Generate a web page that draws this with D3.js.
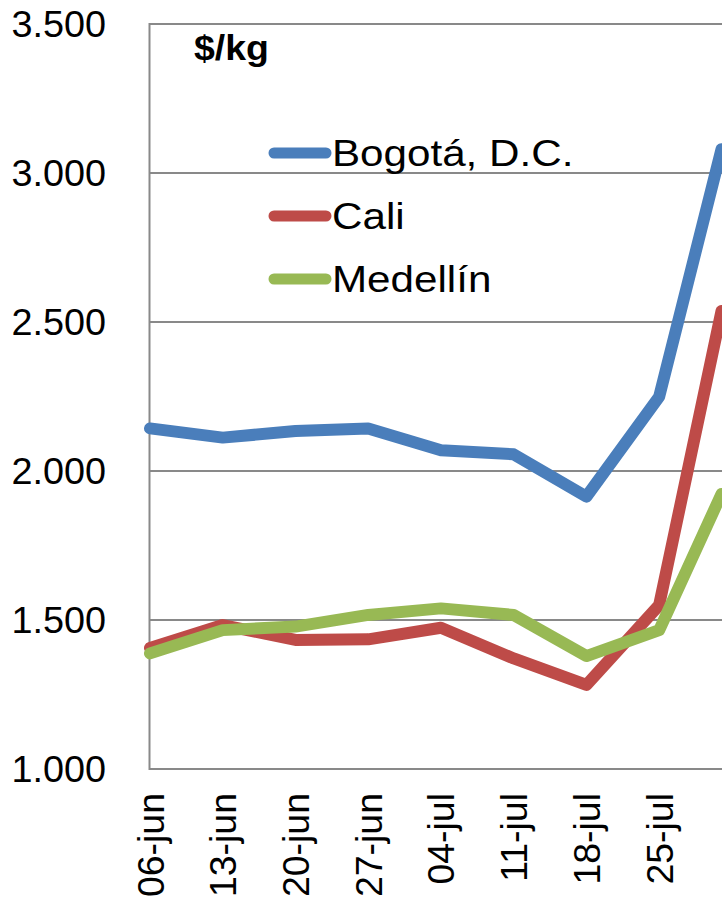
<!DOCTYPE html>
<html>
<head>
<meta charset="utf-8">
<script src="https://cdn.jsdelivr.net/npm/d3@7"></script>
<style>
  body { margin: 0; background: #fff; }
  svg { display: block; }
  text { font-family: "Liberation Sans", Arial, sans-serif; fill: #000; }
</style>
</head>
<body>
<div id="container"></div>
<script>
// Data (weekly prices, $/kg)
var dates = ["2013-06-06", "2013-06-13", "2013-06-20", "2013-06-27", "2013-07-04",
             "2013-07-11", "2013-07-18", "2013-07-25", "2013-07-31"];
var tickDates = ["2013-06-06", "2013-06-13", "2013-06-20", "2013-06-27",
                 "2013-07-04", "2013-07-11", "2013-07-18", "2013-07-25"];
var tickLabels = ["06-jun", "13-jun", "20-jun", "27-jun", "04-jul", "11-jul", "18-jul", "25-jul"];
var yTicks = [1000, 1500, 2000, 2500, 3000, 3500];

var seriesNames = ["Bogotá, D.C.", "Cali", "Medellín"];
var bogota = [2143, 2112, 2134, 2143, 2070, 2056, 1914, 2249, 3080];
var cali = [1406, 1483, 1433, 1435, 1474, 1371, 1282, 1550, 2537];
var medellin = [1388, 1466, 1478, 1517, 1539, 1517, 1379, 1466, 1923];
var colors = ["#4a7ebb", "#be4b48", "#98b954"];

var width = 722;
var height = 898;
// plot area edges (note: "top" is reserved on window, so prefix these)
var plotLeft = 149.5, plotRight = 722, plotTop = 24, plotBottom = 769;

var parse = d3.timeParse("%Y-%m-%d");
var locale = d3.formatLocale({ decimal: ",", thousands: ".", grouping: [3], currency: ["$", ""] });

var svg = d3.select("#container").append("svg")
  .attr("width", width)
  .attr("height", height);

var x = d3.scaleTime()
  .domain([parse(dates[0]), parse(dates[dates.length - 1])])
  .range([plotLeft + 0.5, 721.5]);

var y = d3.scaleLinear()
  .domain([1000, 3500])
  .range([plotBottom, plotTop]);

// gridlines
svg.append("g").selectAll("line")
  .data(yTicks.slice(1, -1))
  .enter().append("line")
  .attr("x1", plotLeft).attr("x2", plotRight)
  .attr("y1", function(d) { return y(d); })
  .attr("y2", function(d) { return y(d); })
  .attr("stroke", "#898989")
  .attr("stroke-width", 2);

// plot border
svg.append("rect")
  .attr("x", plotLeft).attr("y", plotTop)
  .attr("width", plotRight - plotLeft + 2).attr("height", plotBottom - plotTop)
  .attr("fill", "none")
  .attr("stroke", "#898989")
  .attr("stroke-width", 2);

// y axis labels
var yAxis = d3.axisLeft(y)
  .tickValues(yTicks)
  .tickFormat(locale.format(",.0f"))
  .tickSize(0)
  .tickPadding(0);

var gy = svg.append("g")
  .attr("transform", "translate(106,0)")
  .call(yAxis);
gy.select(".domain").remove();
gy.selectAll("text")
  .attr("x", 0)
  .attr("dy", "0.35em")
  .attr("transform", "scale(1.05,1)")
  .style("font-size", "36px")
  .style("font-family", "'Liberation Sans', Arial, sans-serif")
  .attr("fill", "#000");

// x axis labels (rotated)
var xAxis = d3.axisBottom(x)
  .tickValues(tickDates.map(parse))
  .tickFormat(function(d, i) { return tickLabels[i]; })
  .tickSize(0);

var gx = svg.append("g")
  .attr("transform", "translate(0," + plotBottom + ")")
  .call(xAxis);
gx.select(".domain").remove();
gx.selectAll("text")
  .attr("text-anchor", "end")
  .attr("transform", "translate(13,24) rotate(-90) scale(1.04,1)")
  .attr("x", 0).attr("y", 0).attr("dy", 0)
  .style("font-size", "36px")
  .style("font-family", "'Liberation Sans', Arial, sans-serif")
  .attr("fill", "#000");

// series lines
var allSeries = [bogota, cali, medellin];
var line = d3.line()
  .x(function(d, i) { return x(parse(dates[i])); })
  .y(function(d) { return y(d); });

svg.append("g").selectAll("path")
  .data(allSeries)
  .enter().append("path")
  .attr("d", line)
  .attr("fill", "none")
  .attr("stroke", function(d, i) { return colors[i]; })
  .attr("stroke-width", 12)
  .attr("stroke-linejoin", "round")
  .attr("stroke-linecap", "round");

// unit label
svg.append("text")
  .attr("transform", "translate(194,60) scale(1.07,1)")
  .style("font-size", "35px")
  .style("font-weight", "bold")
  .text("$/kg");

// legend
var legend = svg.append("g").selectAll("g")
  .data(seriesNames)
  .enter().append("g")
  .attr("transform", function(d, i) { return "translate(0," + (153 + i * 63) + ")"; });

legend.append("line")
  .attr("x1", 274).attr("x2", 326)
  .attr("stroke", function(d, i) { return colors[i]; })
  .attr("stroke-width", 11)
  .attr("stroke-linecap", "round");

legend.append("text")
  .attr("transform", "translate(332,13) scale(1.14,1)")
  .style("font-size", "37px")
  .text(function(d) { return d; });
</script>
</body>
</html>
